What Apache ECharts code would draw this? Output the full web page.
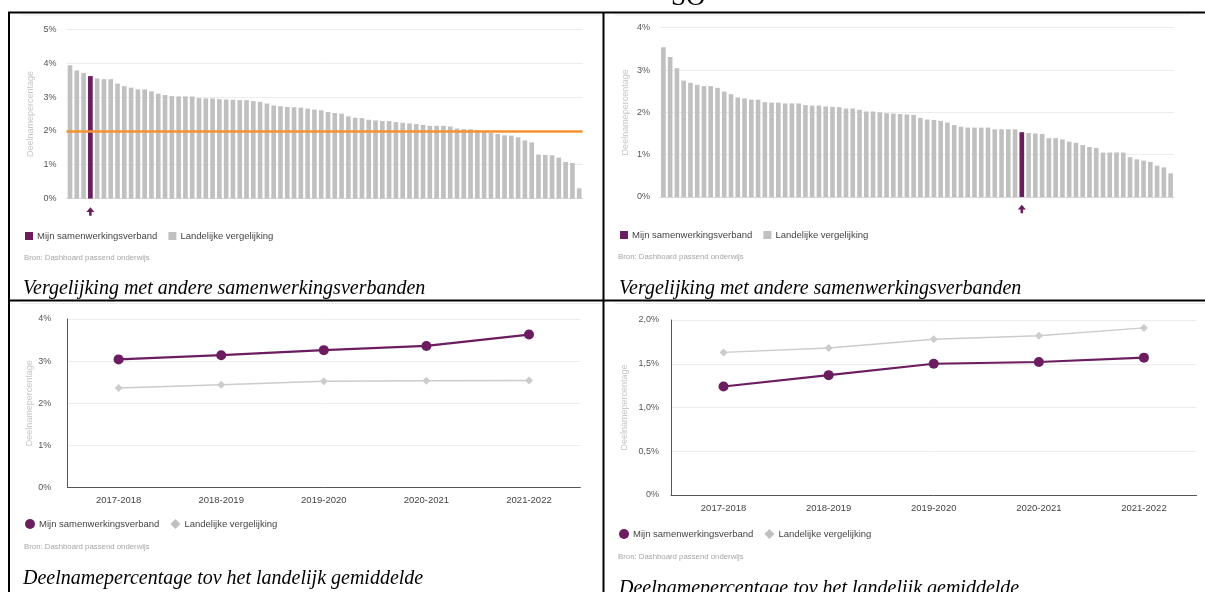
<!DOCTYPE html>
<html>
<head>
<meta charset="utf-8">
<script src="https://cdn.jsdelivr.net/npm/echarts@6/dist/echarts.min.js"></script>
<style>
  html, body { margin: 0; padding: 0; background: #fff; }
  #chart { width: 1205px; height: 592px; }
</style>
</head>
<body>
<div id="chart"></div>
<script>
// ---------- DATA ----------
const seriesMine = 'Mijn samenwerkingsverband';
const seriesNational = 'Landelijke vergelijking';
const axisTitle = 'Deelnamepercentage';
const sourceText = 'Bron: Dashboard passend onderwijs';
const captionBars = 'Vergelijking met andere samenwerkingsverbanden';
const captionLines = 'Deelnamepercentage tov het landelijk gemiddelde';
const headerFragment = 'SO';

// top-left: all partnerships, sorted (percent)
const barsLeft = [
  3.94, 3.79, 3.71, 3.62, 3.55, 3.53, 3.53, 3.40, 3.32, 3.28,
  3.23, 3.23, 3.17, 3.10, 3.06, 3.03, 3.02, 3.02, 3.02, 2.97,
  2.96, 2.96, 2.94, 2.93, 2.92, 2.91, 2.91, 2.88, 2.86, 2.81,
  2.75, 2.73, 2.71, 2.70, 2.69, 2.66, 2.63, 2.61, 2.56, 2.53,
  2.51, 2.43, 2.39, 2.38, 2.33, 2.31, 2.29, 2.29, 2.26, 2.24,
  2.22, 2.20, 2.18, 2.15, 2.15, 2.15, 2.13, 2.07, 2.05, 2.05,
  2.02, 2.00, 1.94, 1.91, 1.87, 1.86, 1.81, 1.72, 1.66, 1.30,
  1.29, 1.28, 1.21, 1.08, 1.05, 0.30
];
const mineIndexLeft = 3;
const referenceLineLeft = 2.0;
const yTicksLeft = [0, 1, 2, 3, 4, 5];

// top-right: all partnerships, sorted (percent)
const barsRight = [
  3.54, 3.31, 3.04, 2.75, 2.70, 2.65, 2.62, 2.62, 2.58, 2.49,
  2.43, 2.35, 2.33, 2.30, 2.30, 2.24, 2.23, 2.23, 2.21, 2.21,
  2.21, 2.17, 2.16, 2.16, 2.14, 2.13, 2.12, 2.09, 2.09, 2.06,
  2.02, 2.02, 2.00, 1.98, 1.97, 1.96, 1.95, 1.94, 1.87, 1.83,
  1.82, 1.80, 1.76, 1.70, 1.66, 1.64, 1.64, 1.64, 1.64, 1.60,
  1.60, 1.60, 1.60, 1.53, 1.51, 1.50, 1.49, 1.39, 1.39, 1.36,
  1.31, 1.28, 1.23, 1.18, 1.16, 1.05, 1.05, 1.05, 1.05, 0.94,
  0.89, 0.86, 0.83, 0.74, 0.70, 0.56
];
const mineIndexRight = 53;
const yTicksRight = [0, 1, 2, 3, 4];

// bottom: school years
const years = ['2017-2018', '2018-2019', '2019-2020', '2020-2021', '2021-2022'];
const mineLeftYears = [3.04, 3.14, 3.26, 3.36, 3.63];
const nationalLeftYears = [2.36, 2.44, 2.52, 2.53, 2.54];
const yTicksBottomLeft = [0, 1, 2, 3, 4];

const mineRightYears = [1.24, 1.37, 1.50, 1.52, 1.57];
const nationalRightYears = [1.63, 1.68, 1.78, 1.82, 1.91];
const yTicksBottomRight = [0, 0.5, 1.0, 1.5, 2.0];

// ---------- STYLE ----------
const PURPLE = '#6b1d5f';
const GRAY_BAR = '#c0c0c0';
const GRAY_LINE = '#cccccc';
const ORANGE = '#f5922f';
const SANS = 'Liberation Sans, Arial, sans-serif';
const SERIF = 'Liberation Serif, Times New Roman, serif';
const ARROW = 'path://M5,0 L10,5.5 L6.6,5.5 L6.6,10 L3.4,10 L3.4,5.5 L0,5.5 Z';

const catsLeft = barsLeft.map((_, i) => String(i + 1));
const catsRight = barsRight.map((_, i) => String(i + 1));
const onlyAt = (arr, idx) => arr.map((v, i) => (i === idx ? v : '-'));
const tickRange = (t) => ({ min: t[0], max: t[t.length - 1], interval: t[1] - t[0] });

function valueAxis(grid, ticks, opts) {
  const r = tickRange(ticks);
  return Object.assign({
    gridIndex: grid, type: 'value', min: r.min, max: r.max, interval: r.interval,
    name: axisTitle, nameLocation: 'middle', nameRotate: 90,
    nameTextStyle: { color: '#c6c6c6', fontSize: 9, fontFamily: SANS },
    axisLabel: { color: '#555', fontSize: 9, fontFamily: SANS, margin: 10, formatter: '{value}%' },
    axisTick: { show: false },
    axisLine: { show: false },
    splitLine: { lineStyle: { color: '#ececec', width: 1 } }
  }, opts);
}

function barCatAxis(grid, cats) {
  return {
    gridIndex: grid, type: 'category', data: cats,
    axisLabel: { show: false }, axisTick: { show: false },
    axisLine: { lineStyle: { color: '#d6d6d6' } }
  };
}

function yearAxis(grid) {
  return {
    gridIndex: grid, type: 'category', data: years,
    axisTick: { show: false },
    axisLine: { lineStyle: { color: '#555', width: 1 } },
    axisLabel: { color: '#444', fontSize: 9.5, fontFamily: SANS, margin: 8 }
  };
}

function legendFor(left, top, icons) {
  return {
    left: left, top: top, orient: 'horizontal', padding: 0,
    itemWidth: 8, itemHeight: 8, itemGap: 11, selectedMode: false,
    textStyle: { color: '#444', fontSize: 9.5, fontFamily: SANS, padding: [0, 0, 0, -1] },
    data: [
      { name: seriesMine, icon: icons[0] },
      { name: seriesNational, icon: icons[1] }
    ]
  };
}

function caption(text, left, top) {
  return {
    text: text, left: left, top: top, padding: 0,
    textStyle: { fontFamily: SERIF, fontStyle: 'italic', fontWeight: 'normal', fontSize: 20, color: '#000' }
  };
}
function source(left, top) {
  return {
    text: sourceText, left: left, top: top, padding: 0,
    textStyle: { fontFamily: SANS, fontWeight: 'normal', fontSize: 7.8, color: '#a5a5a5' }
  };
}

const chart = echarts.init(document.getElementById('chart'), null, { renderer: 'canvas' });

const option = {
  animation: false,
  backgroundColor: '#fff',
  title: [
    caption(captionBars, 23, 279),
    caption(captionBars, 619, 279),
    caption(captionLines, 23, 569),
    caption(captionLines, 619, 579),
    source(24, 254),
    source(618, 253),
    source(24, 543),
    source(618, 553)
  ],
  legend: [
    legendFor(25, 231, ['rect', 'rect']),
    legendFor(620, 230, ['rect', 'rect']),
    Object.assign(legendFor(25, 519, ['circle', 'diamond']), { itemWidth: 10, itemHeight: 10 }),
    Object.assign(legendFor(619, 529, ['circle', 'diamond']), { itemWidth: 10, itemHeight: 10 })
  ],
  grid: [
    { left: 66.6, top: 29.5, width: 516, height: 169, outerBoundsMode: 'none' },
    { left: 660, top: 27.7, width: 514, height: 169.3, outerBoundsMode: 'none' },
    { left: 67.3, top: 319, width: 513, height: 168.3, outerBoundsMode: 'none' },
    { left: 671, top: 320, width: 525.5, height: 175, outerBoundsMode: 'none' }
  ],
  xAxis: [
    barCatAxis(0, catsLeft),
    barCatAxis(1, catsRight),
    yearAxis(2),
    yearAxis(3)
  ],
  yAxis: [
    valueAxis(0, yTicksLeft, { nameGap: 32 }),
    valueAxis(1, yTicksRight, { nameGap: 30 }),
    valueAxis(2, yTicksBottomLeft, {
      nameGap: 33,
      axisLine: { show: true, lineStyle: { color: '#555', width: 1 } },
      axisLabel: { color: '#555', fontSize: 9, fontFamily: SANS, margin: 16, formatter: '{value}%' }
    }),
    valueAxis(3, yTicksBottomRight, {
      nameGap: 42,
      axisLine: { show: true, lineStyle: { color: '#555', width: 1 } },
      axisLabel: {
        color: '#555', fontSize: 9, fontFamily: SANS, margin: 12,
        formatter: (v) => (v === 0 ? '0%' : v.toFixed(1).replace('.', ',') + '%')
      }
    })
  ],
  series: [
    // top-left
    {
      type: 'bar', name: seriesNational, xAxisIndex: 0, yAxisIndex: 0,
      data: barsLeft, barWidth: '68%', barGap: '-100%',
      itemStyle: { color: GRAY_BAR },
      markLine: {
        silent: true, symbol: 'none', label: { show: false },
        lineStyle: { color: ORANGE, width: 2.5, type: 'solid' },
        data: [{ yAxis: referenceLineLeft }]
      },
      z: 2
    },
    {
      type: 'bar', name: seriesMine, xAxisIndex: 0, yAxisIndex: 0,
      data: onlyAt(barsLeft, mineIndexLeft), barWidth: '68%', barGap: '-100%',
      itemStyle: { color: PURPLE },
      markPoint: {
        silent: true, label: { show: false },
        data: [{
          coord: [catsLeft[mineIndexLeft], 0], symbol: ARROW, symbolSize: [8, 8.5],
          symbolOffset: [0, 13], itemStyle: { color: PURPLE }
        }]
      },
      z: 3
    },
    // top-right
    {
      type: 'bar', name: seriesNational, xAxisIndex: 1, yAxisIndex: 1,
      data: barsRight, barWidth: '68%', barGap: '-100%',
      itemStyle: { color: GRAY_BAR }, z: 2
    },
    {
      type: 'bar', name: seriesMine, xAxisIndex: 1, yAxisIndex: 1,
      data: onlyAt(barsRight, mineIndexRight), barWidth: '68%', barGap: '-100%',
      itemStyle: { color: PURPLE },
      markPoint: {
        silent: true, label: { show: false },
        data: [{
          coord: [catsRight[mineIndexRight], 0], symbol: ARROW, symbolSize: [8, 8.5],
          symbolOffset: [0, 12], itemStyle: { color: PURPLE }
        }]
      },
      z: 3
    },
    // bottom-left
    {
      type: 'line', name: seriesNational, xAxisIndex: 2, yAxisIndex: 2,
      data: nationalLeftYears, symbol: 'diamond', symbolSize: 8,
      lineStyle: { color: GRAY_LINE, width: 1.5 }, itemStyle: { color: GRAY_LINE }, z: 2
    },
    {
      type: 'line', name: seriesMine, xAxisIndex: 2, yAxisIndex: 2,
      data: mineLeftYears, symbol: 'circle', symbolSize: 10,
      lineStyle: { color: PURPLE, width: 2.2 }, itemStyle: { color: PURPLE }, z: 3
    },
    // bottom-right
    {
      type: 'line', name: seriesNational, xAxisIndex: 3, yAxisIndex: 3,
      data: nationalRightYears, symbol: 'diamond', symbolSize: 8,
      lineStyle: { color: GRAY_LINE, width: 1.5 }, itemStyle: { color: GRAY_LINE }, z: 2
    },
    {
      type: 'line', name: seriesMine, xAxisIndex: 3, yAxisIndex: 3,
      data: mineRightYears, symbol: 'circle', symbolSize: 10,
      lineStyle: { color: PURPLE, width: 2.2 }, itemStyle: { color: PURPLE }, z: 3
    }
  ],
  graphic: [
    // table borders
    { type: 'line', silent: true, z: 100, shape: { x1: 8, y1: 12.5, x2: 1205, y2: 12.5 }, style: { stroke: '#000', lineWidth: 2 } },
    { type: 'line', silent: true, z: 100, shape: { x1: 9, y1: 12, x2: 9, y2: 592 }, style: { stroke: '#000', lineWidth: 2 } },
    { type: 'line', silent: true, z: 100, shape: { x1: 603.5, y1: 12, x2: 603.5, y2: 592 }, style: { stroke: '#000', lineWidth: 2 } },
    { type: 'line', silent: true, z: 100, shape: { x1: 8, y1: 300.5, x2: 1205, y2: 300.5 }, style: { stroke: '#000', lineWidth: 2 } },
    // faint picture frames inside cells
    { type: 'line', silent: true, z: 1, shape: { x1: 20, y1: 15, x2: 600, y2: 15 }, style: { stroke: '#eeeeee', lineWidth: 1 } },
    { type: 'line', silent: true, z: 1, shape: { x1: 615, y1: 15, x2: 1190, y2: 15 }, style: { stroke: '#eeeeee', lineWidth: 1 } },
    { type: 'line', silent: true, z: 1, shape: { x1: 20, y1: 303.5, x2: 600, y2: 303.5 }, style: { stroke: '#eeeeee', lineWidth: 1 } },
    { type: 'line', silent: true, z: 1, shape: { x1: 615, y1: 303.5, x2: 1205, y2: 303.5 }, style: { stroke: '#eeeeee', lineWidth: 1 } },
    // cut-off heading fragment above the table
    {
      type: 'text', silent: true, left: 671, top: -16,
      style: { text: headerFragment, font: '27px ' + SERIF, fill: '#000' }
    }
  ]
};

chart.setOption(option);
</script>
</body>
</html>
